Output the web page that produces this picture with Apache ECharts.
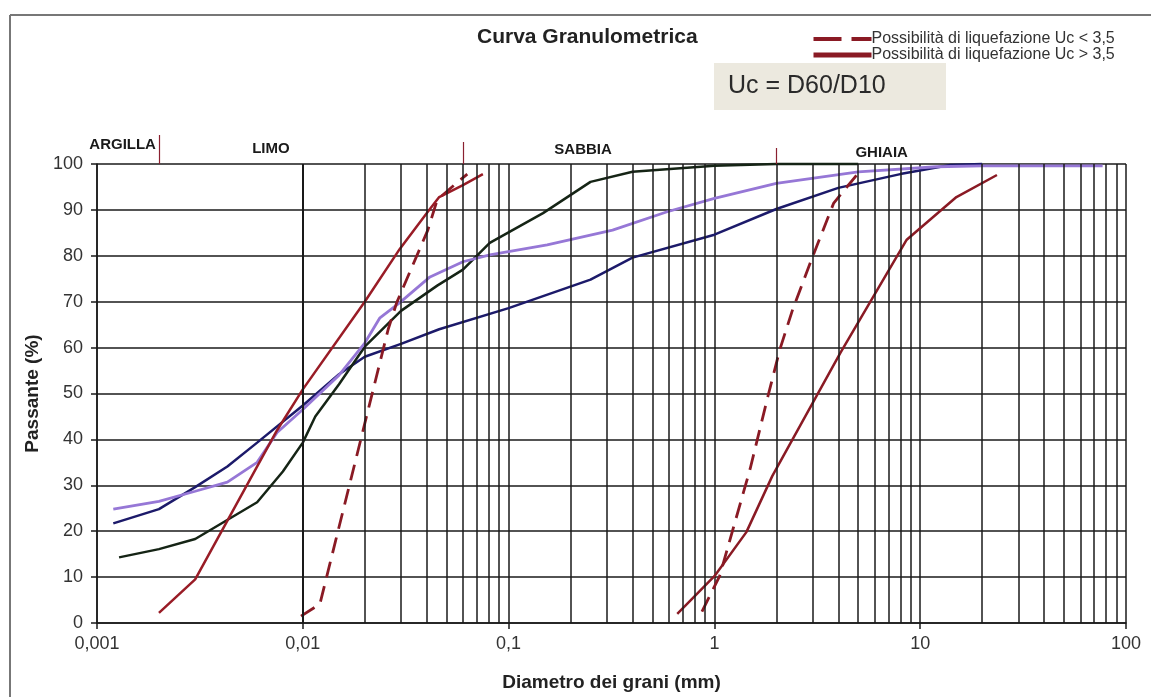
<!DOCTYPE html>
<html>
<head>
<meta charset="utf-8">
<script src="https://cdn.jsdelivr.net/npm/echarts@6/dist/echarts.min.js"></script>
<style>
html,body{margin:0;padding:0;background:#fff;}
#chart{width:1151px;height:697px;}
</style>
</head>
<body>
<div id="chart"></div>
<script>
// ---- data ----
const xTickLabels = ['0,001', '0,01', '0,1', '1', '10', '100'];
const yTicks = [0, 10, 20, 30, 40, 50, 60, 70, 80, 90, 100];
const minorGrid = [0.002,0.003,0.004,0.005,0.006,0.007,0.008,0.009,
  0.02,0.03,0.04,0.05,0.06,0.07,0.08,0.09,
  0.2,0.3,0.4,0.5,0.6,0.7,0.8,0.9,
  2,3,4,5,6,7,8,9,
  20,30,40,50,60,70,80,90];
const regionBounds = [0.002, 0.06, 2];
const regionNames = ['ARGILLA', 'LIMO', 'SABBIA', 'GHIAIA'];

const curveNavy = [[0.0012,21.7],[0.002,24.8],[0.003,29.6],[0.0043,34.1],[0.006,39.3],[0.01,47.4],[0.015,54.2],[0.02,58],[0.03,60.8],[0.046,64],[0.1,68.6],[0.25,74.8],[0.4,79.6],[1,84.6],[2,90.2],[4,94.8],[8,97.8],[14,99.8],[20,100]];
const curveBlack = [[0.00128,14.3],[0.002,16.1],[0.003,18.3],[0.006,26.3],[0.008,33],[0.01,39.3],[0.0115,45],[0.015,52],[0.02,60.2],[0.03,68],[0.045,73.5],[0.06,77],[0.081,82.8],[0.147,89.3],[0.25,96.1],[0.4,98.3],[1,99.6],[2,100],[5,100]];
const curvePurple = [[0.0012,24.8],[0.002,26.5],[0.003,28.7],[0.0043,30.7],[0.006,35],[0.0075,41.5],[0.01,46.5],[0.015,54],[0.02,61],[0.0237,66.5],[0.0296,69.8],[0.0415,75.4],[0.06,78.7],[0.081,80.2],[0.154,82.4],[0.32,85.6],[0.59,89.6],[1,92.5],[2,95.8],[5,98.3],[12,99.4],[20,99.6],[77,99.6]];
const liqLowLeft = [[0.0098,1.5],[0.0121,4.1],[0.026,64],[0.0286,69.8],[0.0405,85.6],[0.045,92.2],[0.056,95.9],[0.063,97.8]];
const liqLowRight = [[0.87,2.5],[1.06,10.2],[1.49,33.5],[1.82,49.4],[2.08,59.6],[2.4,68.3],[3.0,79.8],[3.8,91.5],[5.0,98]];
const liqHighLeft = [[0.002,2.2],[0.003,9.5],[0.0075,42],[0.01,50.9],[0.02,70],[0.0296,81.5],[0.0405,89.6],[0.046,92.8],[0.06,95.4],[0.075,97.8]];
const liqHighRight = [[0.66,2],[1.0,10.2],[1.43,19.8],[1.91,32],[4.1,58.9],[8.6,83.5],[15,92.8],[23.6,97.6]];

const nameLow = 'Possibilità di liquefazione Uc < 3,5';
const nameHigh = 'Possibilità di liquefazione Uc > 3,5';

// ---- chart ----
const FONT = '"Liberation Sans", Arial, sans-serif';
const RED = '#8a1a24';
const chart = echarts.init(document.getElementById('chart'));

function lineSeries(name, data, color, width, type, z) {
  return {
    name: name, type: 'line', data: data, symbol: 'none', showSymbol: false,
    smooth: false, z: z || 3, animation: false, clip: false,
    lineStyle: { color: color, width: width, type: type || 'solid' },
    itemStyle: { color: color }
  };
}

const option = {
  animation: false,
  backgroundColor: '#ffffff',
  title: {
    text: 'Curva Granulometrica',
    left: 472, top: 22,
    textStyle: { fontFamily: FONT, fontSize: 21, fontWeight: 'bold', color: '#222' }
  },
  legend: {
    orient: 'vertical', left: 806, top: 26, itemGap: 0,
    itemWidth: 58, itemHeight: 14,
    selectedMode: false,
    textStyle: { fontFamily: FONT, fontSize: 16, color: '#333', padding: [0, 0, 0, -5] },
    itemStyle: { opacity: 0 },
    data: [
      { name: nameLow, itemStyle: { opacity: 0 }, lineStyle: { type: [28, 10], width: 4, color: RED } },
      { name: nameHigh, itemStyle: { opacity: 0 }, lineStyle: { type: 'solid', width: 5, color: RED } }
    ]
  },
  grid: { left: 97, right: 25, top: 164, bottom: 73 },
  xAxis: {
    type: 'log', logBase: 10, min: 0.001, max: 100,
    name: 'Diametro dei grani (mm)', nameLocation: 'middle', nameGap: 50,
    nameTextStyle: { fontFamily: FONT, fontSize: 19, fontWeight: 'bold', color: '#222' },
    axisLine: { show: true, lineStyle: { color: '#1a1a1a', width: 1.5 } },
    axisTick: { show: true, length: 6, lineStyle: { color: '#1a1a1a', width: 1.5 } },
    axisLabel: {
      fontFamily: FONT, fontSize: 18, color: '#333', margin: 12,
      formatter: function (v) { return xTickLabels[Math.round(Math.log10(v)) + 3]; }
    },
    splitLine: { show: true, lineStyle: { color: '#1a1a1a', width: 1.5 } }
  },
  yAxis: {
    type: 'value', min: 0, max: 100, interval: 10,
    name: 'Passante (%)', nameLocation: 'middle', nameGap: 53, nameRotate: 90,
    nameTextStyle: { fontFamily: FONT, fontSize: 19, fontWeight: 'bold', color: '#222' },
    axisLine: { show: true, lineStyle: { color: '#1a1a1a', width: 1.5 } },
    axisTick: { show: true, length: 6, lineStyle: { color: '#1a1a1a', width: 1.5 } },
    axisLabel: { fontFamily: FONT, fontSize: 18, color: '#333', margin: 14,
      formatter: function (v) { return yTicks.indexOf(v) >= 0 ? String(v) : ''; } },
    splitLine: { show: true, lineStyle: { color: '#1a1a1a', width: 1.5 } }
  },
  series: [
    {
      name: 'grid', type: 'line', data: [], z: 1, silent: true, animation: false,
      markLine: {
        silent: true, symbol: ['none', 'none'], animation: false,
        label: { show: false },
        lineStyle: { color: '#1a1a1a', width: 1.5, type: 'solid' },
        data: minorGrid.map(function (v) { return { xAxis: v }; })
      }
    },
    lineSeries('S1', curveNavy, '#1c1a6a', 2.5),
    lineSeries('S2', curveBlack, '#152415', 2.5),
    lineSeries('S3', curvePurple, '#9677d6', 2.8),
    lineSeries(nameLow, liqLowLeft, RED, 2.8, [16, 9], 4),
    lineSeries(nameLow, liqLowRight, RED, 2.8, [16, 9], 4),
    lineSeries(nameHigh, liqHighLeft, '#991c26', 2.5, 'solid', 4),
    lineSeries(nameHigh, liqHighRight, RED, 2.5, 'solid', 4)
  ]
};
chart.setOption(option);

// region markers above the plot, placed through the x axis scale
const yTop = chart.convertToPixel({ yAxisIndex: 0 }, 100);
const px = function (v) { return chart.convertToPixel({ xAxisIndex: 0 }, v); };
const markerTops = [135, 142, 148];
const labelPos = [null, 0.007, 0.23, 6.5];
const labelY = [145, 149, 150, 153];
const graphics = [];
// outer frame
graphics.push({ type: 'line', shape: { x1: 10, y1: 15, x2: 1151, y2: 15 }, style: { stroke: '#777', lineWidth: 2 }, silent: true });
graphics.push({ type: 'line', shape: { x1: 10, y1: 15, x2: 10, y2: 697 }, style: { stroke: '#777', lineWidth: 2 }, silent: true });
regionBounds.forEach(function (b, i) {
  const x = Math.round(px(b)) + 0.5;
  graphics.push({ type: 'line', shape: { x1: x, y1: markerTops[i], x2: x, y2: yTop }, style: { stroke: '#8a2030', lineWidth: 1.2 }, z: 10, silent: true });
});
regionNames.forEach(function (n, i) {
  const isFirst = i === 0;
  graphics.push({
    type: 'text', z: 10, silent: true,
    x: isFirst ? px(regionBounds[0]) - 3 : px(labelPos[i]),
    y: labelY[i],
    style: { text: n, fontFamily: FONT, fontSize: 15, fontWeight: 'bold', fill: '#1a1a1a',
      align: isFirst ? 'right' : 'center', verticalAlign: 'middle' }
  });
});
// Uc box
graphics.push({ type: 'rect', shape: { x: 714, y: 63, width: 232, height: 47 }, style: { fill: '#ece9df' }, z: 10, silent: true });
graphics.push({ type: 'text', x: 728, y: 86.5, z: 11, silent: true,
  style: { text: 'Uc = D60/D10', fontFamily: FONT, fontSize: 25, fill: '#2a2a2a', verticalAlign: 'middle' } });
chart.setOption({ graphic: graphics });
</script>
</body>
</html>
